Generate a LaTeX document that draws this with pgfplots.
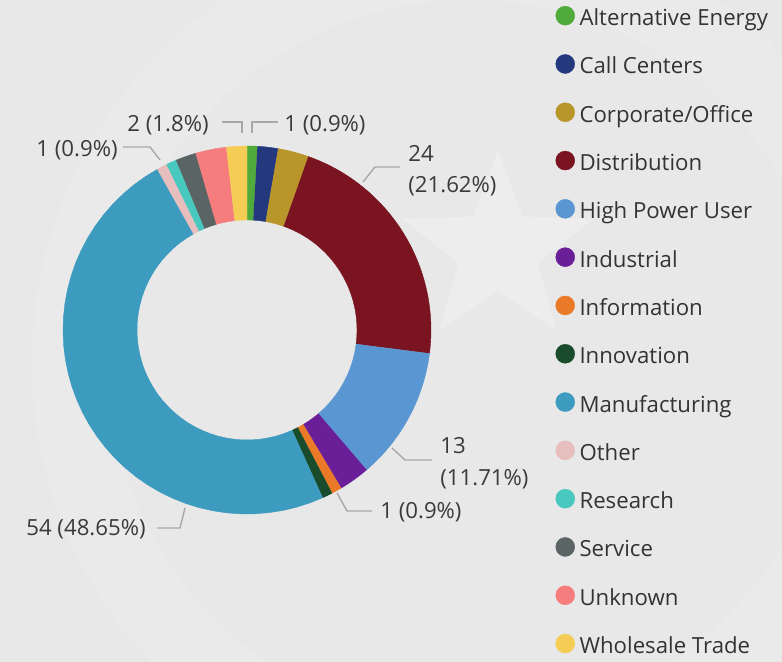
\documentclass[border=0pt]{standalone}
\usepackage{fontspec}
\setmainfont{Open Sans}
\usepackage{pgfplots}
\pgfplotsset{compat=1.18}
\usepackage{pgfplotstable}
\usetikzlibrary{shapes.geometric}

% slice colours, in table order
\definecolor{sec0}{HTML}{50AA3C}
\definecolor{sec1}{HTML}{23387D}
\definecolor{sec2}{HTML}{B8962A}
\definecolor{sec3}{HTML}{7A1420}
\definecolor{sec4}{HTML}{5A96D2}
\definecolor{sec5}{HTML}{6A1E98}
\definecolor{sec6}{HTML}{EB7A28}
\definecolor{sec7}{HTML}{194B2D}
\definecolor{sec8}{HTML}{3C9BBE}
\definecolor{sec9}{HTML}{E6BEBE}
\definecolor{sec10}{HTML}{48C8BE}
\definecolor{sec11}{HTML}{5A6464}
\definecolor{sec12}{HTML}{F57D7D}
\definecolor{sec13}{HTML}{F5CD55}
\definecolor{panel}{HTML}{E8E8E8}
\definecolor{leader}{HTML}{A8A8A8}
\definecolor{labeltext}{HTML}{3A3A3A}

\pgfplotstableread[col sep=comma,row sep=\\]{
name,value\\
Alternative Energy,1\\
Call Centers,2\\
Corporate/Office,3\\
Distribution,24\\
High Power User,13\\
Industrial,3\\
Information,1\\
Innovation,1\\
Manufacturing,54\\
Other,1\\
Research,1\\
Service,2\\
Unknown,3\\
Wholesale Trade,2\\
}\sectors

% running totals: where each slice starts and ends, in data units
\pgfplotstablegetrowsof{\sectors}
\pgfmathtruncatemacro\lastsec{\pgfplotsretval-1}
\def\runsum{0}
\pgfplotsforeachungrouped \i in {0,...,\lastsec}{%
  \pgfplotstablegetelem{\i}{value}\of\sectors
  \expandafter\edef\csname secstart\i\endcsname{\runsum}%
  \pgfmathsetmacro\runsum{\runsum+\pgfplotsretval}%
  \expandafter\edef\csname secend\i\endcsname{\runsum}%
}
\let\total\runsum

% ring geometry (axis units = pixels of the panel)
\def\cx{247}
\def\cy{332}
\def\rout{184}
\def\rin{110}

\newcommand\lblfont{\fontsize{11.1}{13}\selectfont}

\begin{document}
\begin{tikzpicture}
\useasboundingbox (0,0) rectangle (391pt,331pt);
\fill[panel] (0,0) rectangle (391pt,331pt);
% faint watermark behind the chart
\draw[white, opacity=0.12, line width=38pt] (235pt,150pt) circle (200pt);
\node[star, star points=5, star point ratio=2.4, minimum size=100pt,
      fill=white, opacity=0.22, inner sep=0pt] at (249pt,206pt) {};
\begin{axis}[
  at={(0,0)}, anchor=south west,
  width=391pt, height=331pt, scale only axis,
  xmin=0, xmax=782, ymin=0, ymax=662,
  hide axis, clip=false,
  legend image code/.code={\fill[#1] (4.75pt,0.2em) circle (4.75pt);},
  legend cell align=left,
  legend style={at={(0.7104,0.991)}, anchor=north west,
    draw=none, fill=none, inner sep=0pt, outer sep=0pt,
    font=\lblfont, text=black!80,
    nodes={inner sep=0pt, text height=8.5pt, text depth=2.5pt},
    row sep=11.8pt,
    /tikz/every odd column/.append style={column sep=2.3pt}},
]
\pgfplotsinvokeforeach{0,...,13}{%
  \edef\sa{\csname secstart#1\endcsname}%
  \edef\sb{\csname secend#1\endcsname}%
  \addplot[fill=sec#1, draw=sec#1, line width=0.2pt,
           domain=0:3, samples=121, variable=\t]
    ({\cx + ifthenelse(\t<1.5,\rout,\rin)*cos(90-360*(\sa+(\sb-\sa)*max(0,ifthenelse(\t<1.5,min(\t,1),min(3-\t,1))))/\total)},
     {\cy + ifthenelse(\t<1.5,\rout,\rin)*sin(90-360*(\sa+(\sb-\sa)*max(0,ifthenelse(\t<1.5,min(\t,1),min(3-\t,1))))/\total)});
  \pgfplotstablegetelem{#1}{name}\of\sectors
  \addlegendentryexpanded{\pgfplotsretval}
}

% data labels with their leader lines
\begin{scope}[every node/.style={font=\lblfont, text=labeltext, inner sep=0pt}]
\draw[leader, line width=0.7pt] (axis cs:252,529) -- (axis cs:252,540) -- (axis cs:278,540);
\node[anchor=west] at (axis cs:284,537) {1 (0.9\%)};
\draw[leader, line width=0.7pt] (axis cs:242,529) -- (axis cs:242,540) -- (axis cs:222,540);
\node[anchor=east] at (axis cs:209,537) {2 (1.8\%)};
\draw[leader, line width=0.7pt] (axis cs:160,502) -- (axis cs:150,515) -- (axis cs:123,515);
\node[anchor=east] at (axis cs:118,512) {1 (0.9\%)};
\draw[leader, line width=0.7pt] (axis cs:363,480) -- (axis cs:375,495) -- (axis cs:400,495);
\node[anchor=west] at (axis cs:408,509) {24};
\node[anchor=west] at (axis cs:408,476) {(21.62\%)};
\draw[leader, line width=0.7pt] (axis cs:392,214) -- (axis cs:405,202) -- (axis cs:432,202);
\node[anchor=west] at (axis cs:440,216) {13};
\node[anchor=west] at (axis cs:440,183) {(11.71\%)};
\draw[leader, line width=0.7pt] (axis cs:337,169) -- (axis cs:347,151) -- (axis cs:372,151);
\node[anchor=west] at (axis cs:380,150) {1 (0.9\%)};
\draw[leader, line width=0.7pt] (axis cs:185,154) -- (axis cs:180,134) -- (axis cs:157,134);
\node[anchor=east] at (axis cs:146,133) {54 (48.65\%)};
\end{scope}
\end{axis}
\end{tikzpicture}
\end{document}
